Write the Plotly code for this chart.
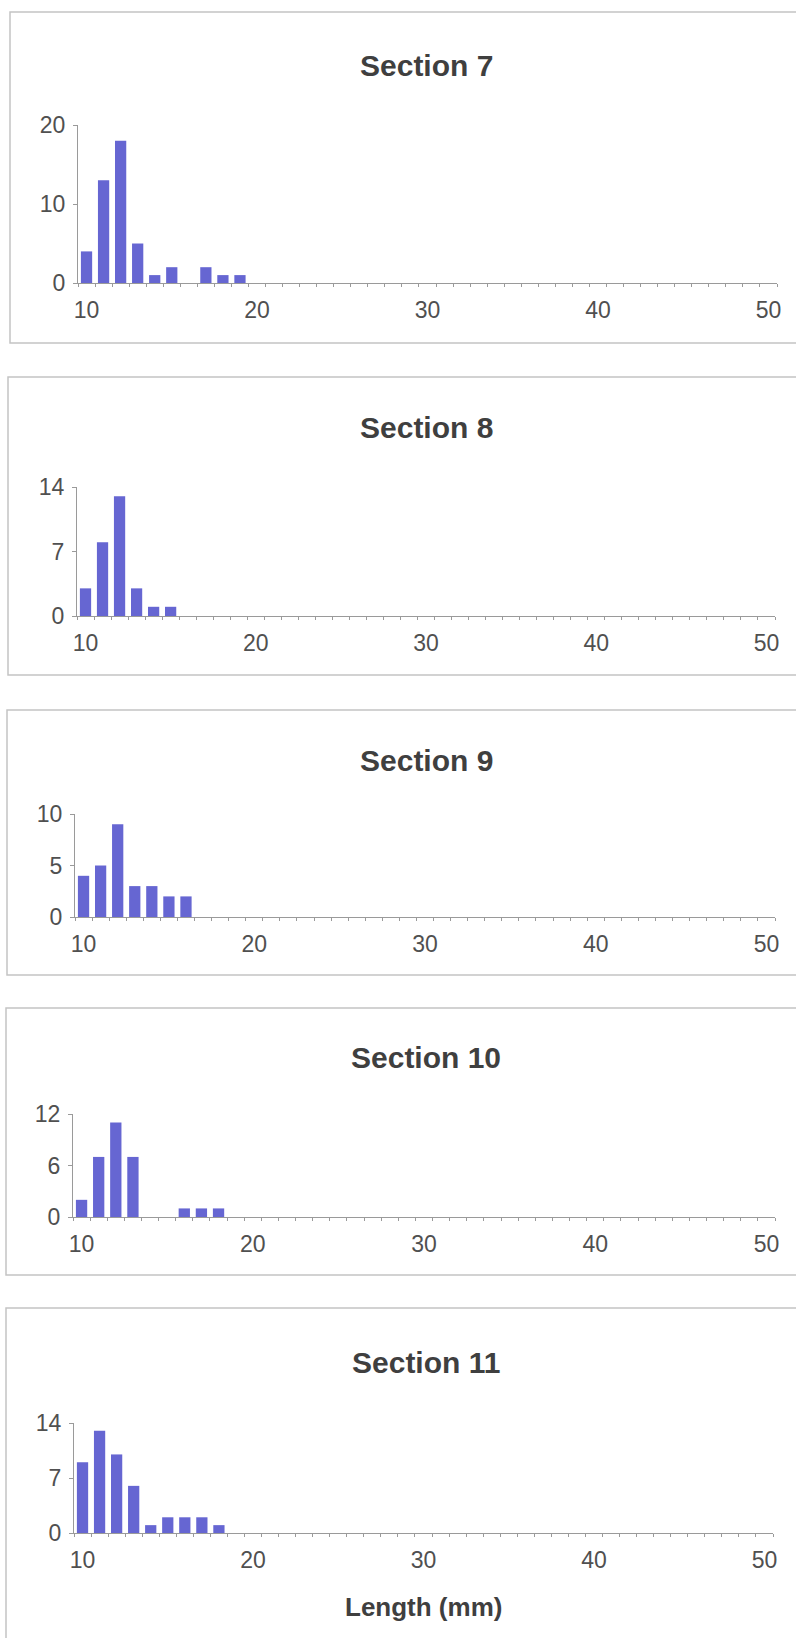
import plotly.graph_objects as go

# ---- data ----
lengths_mm = [10, 11, 12, 13, 14, 15, 16, 17, 18, 19]
section_names = ["Section 7", "Section 8", "Section 9", "Section 10", "Section 11"]
sec7_counts = [4, 13, 18, 5, 1, 2, 0, 2, 1, 1]
sec8_counts = [3, 8, 13, 3, 1, 1, 0, 0, 0, 0]
sec9_counts = [4, 5, 9, 3, 3, 2, 2, 0, 0, 0]
sec10_counts = [2, 7, 11, 7, 0, 0, 1, 1, 1, 0]
sec11_counts = [9, 13, 10, 6, 1, 2, 2, 2, 1, 0]
y_maxes = [20, 14, 10, 12, 14]
y_tickvals = [[0, 10, 20], [0, 7, 14], [0, 5, 10], [0, 6, 12], [0, 7, 14]]
x_tickvals = [10, 20, 30, 40, 50]
x_axis_title = "Length (mm)"

all_counts = [sec7_counts, sec8_counts, sec9_counts, sec10_counts, sec11_counts]

W, H = 796, 1638
BAR = "#6666d2"
GRID = "#9a9a9a"
TXT = "#505050"
FONT = "Arial, Liberation Sans, sans-serif"

# layout in pixels: (x_left, x_right, y_zero, y_top)
panels = [
    (78, 777, 283, 125),
    (77, 775, 616, 487),
    (75, 775, 917, 814),
    (73, 775, 1217, 1114),
    (74, 773, 1533, 1423),
]
titles_y = [66, 428, 760, 1057, 1362]
boxes = [(10, 12, 820, 343), (8, 377, 820, 675), (7, 710, 820, 975),
         (6, 1008, 820, 1275), (6, 1308, 820, 1660)]


def px(x):
    return x / W


def py(y):
    return 1 - y / H


fig = go.Figure()
layout = dict(width=W, height=H, margin=dict(l=0, r=0, t=0, b=0, autoexpand=False),
              paper_bgcolor="white", plot_bgcolor="white", showlegend=False,
              font=dict(family=FONT, color=TXT))
shapes = []
annotations = []
for i, (counts, (xl, xr, yz, yt)) in enumerate(zip(all_counts, panels)):
    n = i + 1
    xa = "x" if n == 1 else f"x{n}"
    ya = "y" if n == 1 else f"y{n}"
    fig.add_trace(go.Bar(x=lengths_mm, y=counts, marker=dict(color=BAR, line=dict(width=0)),
                         width=0.66, xaxis=xa, yaxis=ya))
    xkey = "xaxis" if n == 1 else f"xaxis{n}"
    ykey = "yaxis" if n == 1 else f"yaxis{n}"
    layout[xkey] = dict(domain=[px(xl), px(xr)], anchor=ya, range=[9.5, 50.5],
                        automargin=False,
                        tickmode="array", tickvals=x_tickvals, ticks="",
                        ticklabelstandoff=6,
                        showline=True, linecolor=GRID, linewidth=1,
                        showgrid=False, zeroline=False,
                        tickfont=dict(size=23, color=TXT, family=FONT),
                        minor=dict(tickmode="linear", tick0=9.5, dtick=1, ticks="outside",
                                   ticklen=3, tickcolor=GRID, showgrid=False))
    layout[ykey] = dict(domain=[py(yz), py(yt)], anchor=xa, range=[0, y_maxes[i]],
                        automargin=False,
                        tickmode="array", tickvals=y_tickvals[i], ticks="outside",
                        ticklen=4, tickcolor=GRID, ticklabelstandoff=3,
                        showline=True, linecolor=GRID, linewidth=1,
                        showgrid=False, zeroline=False,
                        tickfont=dict(size=23, color=TXT, family=FONT))
    x0, y0, x1, y1 = boxes[i]
    shapes.append(dict(type="rect", xref="paper", yref="paper",
                       x0=px(x0), x1=px(x1), y0=py(y1), y1=py(y0),
                       line=dict(color="#c4c4c4", width=1.5), fillcolor="rgba(0,0,0,0)"))
    annotations.append(dict(text=f"<b>{section_names[i]}</b>", xref="paper", yref="paper",
                            x=px(426), y=py(titles_y[i]), xanchor="center", yanchor="middle",
                            showarrow=False, font=dict(size=30, color="#3f3f3f", family=FONT)))

annotations.append(dict(text=f"<b>{x_axis_title}</b>", xref="paper", yref="paper",
                        x=px(423), y=py(1607), xanchor="center", yanchor="middle",
                        showarrow=False, font=dict(size=26, color="#3f3f3f", family=FONT)))
layout["shapes"] = shapes
layout["annotations"] = annotations
fig.update_layout(**layout)
fig.write_html("out.html", config={"displayModeBar": False})

# remove the browser's default 8px body margin so the figure fills the window exactly
with open("out.html", "r", encoding="utf-8") as f:
    html = f.read()
html = html.replace("<head>", "<head><style>html,body{margin:0;padding:0;overflow:hidden;}</style>", 1)
with open("out.html", "w", encoding="utf-8") as f:
    f.write(html)
